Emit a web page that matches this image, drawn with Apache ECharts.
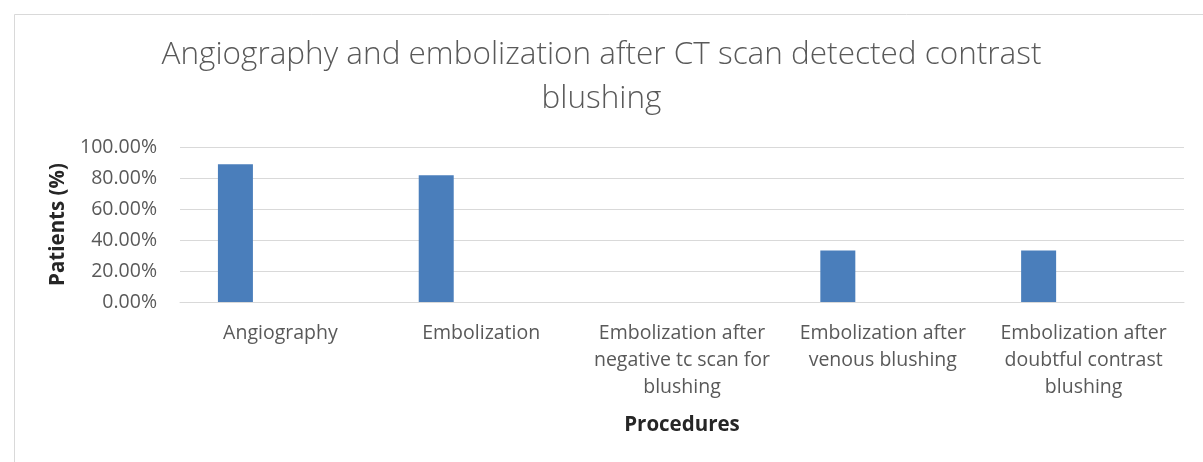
<!DOCTYPE html>
<html><head><meta charset="utf-8">
<script src="https://cdn.jsdelivr.net/npm/echarts@6/dist/echarts.min.js"></script>
<style>html,body{margin:0;padding:0;background:#fff}#c{width:1203px;height:462px}</style>
</head><body><div id="c"></div>
<script>
const titleText = 'Angiography and embolization after CT scan detected contrast\nblushing';
const categories = [
  'Angiography',
  'Embolization',
  'Embolization after\nnegative tc scan for\nblushing',
  'Embolization after\nvenous blushing',
  'Embolization after\ndoubtful contrast\nblushing'
];
const patientsPct = [88.9, 81.8, 0, 33.3, 33.3];
const emptySeries = [null, null, null, null, null];
const yTicks = [0, 20, 40, 60, 80, 100];

const chart = echarts.init(document.getElementById('c'), null, {renderer: 'canvas'});
const font = '"Open Sans", sans-serif';
chart.setOption({
  animation: false,
  backgroundColor: '#fff',
  graphic: [{type: 'rect', left: 12, top: 12, shape: {width: 1200, height: 460},
    style: {fill: 'none', stroke: '#d9d9d9', lineWidth: 1}, silent: true, z: -1}],
  title: {text: titleText, left: 'center', top: 28,
    textStyle: {fontFamily: font, fontWeight: 300, fontSize: 31.5, color: '#595959', lineHeight: 44}},
  grid: {left: 180, right: 19, top: 147, bottom: 160, containLabel: false},
  xAxis: {type: 'category', data: categories,
    name: 'Procedures', nameLocation: 'middle', nameGap: 113,
    nameTextStyle: {fontFamily: font, fontWeight: 'bold', fontSize: 20.5, color: '#262626'},
    axisLine: {lineStyle: {color: '#d9d9d9', width: 1}}, axisTick: {show: false},
    axisLabel: {fontFamily: font, fontSize: 19.5, color: '#595959', lineHeight: 27, margin: 18, interval: 0}},
  yAxis: {type: 'value', min: yTicks[0], max: yTicks[yTicks.length - 1], interval: 20,
    name: 'Patients (%)', nameLocation: 'middle', nameGap: 110,
    nameTextStyle: {fontFamily: font, fontWeight: 'bold', fontSize: 20.5, color: '#262626'},
    axisLine: {show: false}, axisTick: {show: false},
    splitLine: {lineStyle: {color: '#d9d9d9', width: 1}},
    axisLabel: {fontFamily: font, fontSize: 19.5, color: '#595959', margin: 23,
      formatter: v => v.toFixed(2) + '%'}},
  series: [
    {type: 'bar', data: patientsPct, barWidth: 35, barGap: '157%', itemStyle: {color: '#4a7ebb'}},
    {type: 'bar', data: emptySeries, barWidth: 35, itemStyle: {color: '#c0504d'}}
  ]
});
</script></body></html>
